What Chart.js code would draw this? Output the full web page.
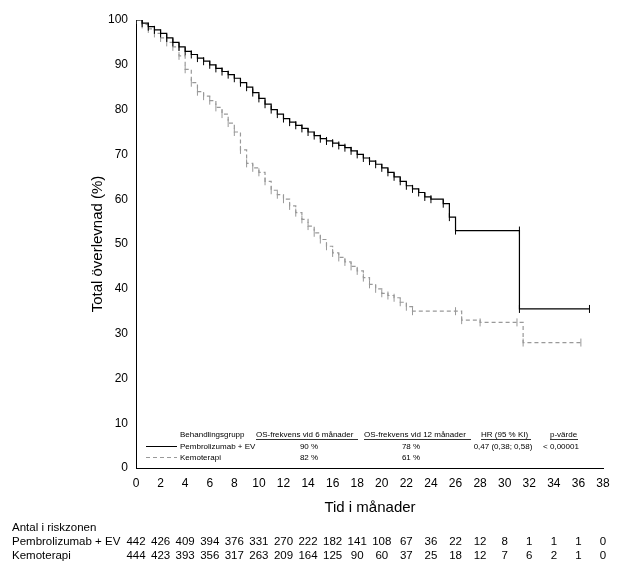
<!DOCTYPE html>
<html><head><meta charset="utf-8">
<script src="https://cdn.jsdelivr.net/npm/chart.js@4"></script>
<style>html,body{margin:0;padding:0;background:#fff}#wrap{width:634px;height:582px}</style>
</head><body><div id="wrap"><canvas id="c"></canvas></div>
<script>
const pembroT = [0,0.5,1,1.5,2,2.5,3,3.5,4,4.5,5,5.5,6,6.5,7,7.5,8,8.5,9,9.5,10,10.5,11,11.5,12,12.5,13,13.5,14,14.5,15,15.5,16,16.5,17,17.5,18,18.5,19,19.5,20,20.5,21,21.5,22,22.5,23,23.5,24,25,25.5,26,31.2,31.2,36.9];
const pembroS = [100,99.3,98.5,97.8,97,96,95,94,93,92.3,91.5,90.8,90,89.2,88.5,87.8,87,86,85,83.8,82.5,81.2,80,79,78,77.2,76.5,75.8,75,74.2,73.5,73,72.5,72,71.5,70.8,70,69.2,68.5,67.8,67,66,65,64,63,62.3,61.5,60.5,60,59,56,53,53,35.5,35.5];
const kemoT = [0,0.5,1,1.5,2,2.5,3,3.5,4,4.5,5,5.5,6,6.5,7,7.5,8,8.5,9,9.5,10,10.5,11,11.5,12,12.5,13,13.5,14,14.5,15,15.5,16,16.5,17,17.5,18,18.5,19,19.5,20,20.5,21,21.5,22,22.5,26,26.5,28,31,31.5,36.2];
const kemoS = [100,99,98,97,96,95,94,92,89,86,84,83,82,80.5,79,77,75,71,68,67,66,64,62,61,60,58.5,57,55.5,54,52.5,51,49.5,48,47,46,45,44,42.5,41,40,39,38.5,38,37,36,35,35,33,32.5,32.5,28,28];
const riskTimes = [0,2,4,6,8,10,12,14,16,18,20,22,24,26,28,30,32,34,36,38];
const riskPembro = [442,426,409,394,376,331,270,222,182,141,108,67,36,22,12,8,1,1,1,0];
const riskKemo = [444,423,393,356,317,263,209,164,125,90,60,37,25,18,12,7,6,2,1,0];
const FONT = "'Liberation Sans', Arial, sans-serif";

const pts = (t, s) => t.map((x, i) => ({x, y: s[i]}));

const textPlugin = {
  id: 'txt',
  afterDraw(chart) {
    const {ctx, scales: {x}} = chart;
    ctx.save();
    ctx.fillStyle = '#000';
    ctx.font = '15px ' + FONT;
    ctx.textAlign = 'center';
    ctx.fillText('Tid i månader', 370, 512);
    ctx.save();
    ctx.translate(102, 244);
    ctx.rotate(-Math.PI / 2);
    ctx.fillText('Total överlevnad (%)', 0, 0);
    ctx.restore();
    ctx.font = '11.5px ' + FONT;
    ctx.textAlign = 'left';
    ctx.fillText('Antal i riskzonen', 12, 531);
    ctx.fillText('Pembrolizumab + EV', 12, 545);
    ctx.fillText('Kemoterapi', 12, 559);
    ctx.textAlign = 'center';
    riskTimes.forEach((t, i) => {
      const px = x.getPixelForValue(t);
      ctx.fillText(riskPembro[i], px, 545);
      ctx.fillText(riskKemo[i], px, 559);
    });
    // legend table
    ctx.font = '8px ' + FONT;
    ctx.textAlign = 'left';
    ctx.fillText('Behandlingsgrupp', 180, 437);
    ctx.fillText('OS-frekvens vid 6 månader', 256, 437);
    ctx.fillText('OS-frekvens vid 12 månader', 364, 437);
    ctx.fillText('HR (95 % KI)', 481, 437);
    ctx.fillText('p-värde', 550, 437);
    ctx.fillRect(256, 439, 102, 0.8);
    ctx.fillRect(364, 439, 107, 0.8);
    ctx.fillRect(481, 439, 50, 0.8);
    ctx.fillRect(550, 439, 28, 0.8);
    ctx.fillText('Pembrolizumab + EV', 180, 449);
    ctx.fillText('Kemoterapi', 180, 460);
    ctx.textAlign = 'center';
    ctx.fillText('90 %', 309, 449);
    ctx.fillText('82 %', 309, 460);
    ctx.fillText('78 %', 411, 449);
    ctx.fillText('61 %', 411, 460);
    ctx.fillText('0,47 (0,38; 0,58)', 503, 449);
    ctx.fillText('< 0,00001', 561, 449);
    ctx.strokeStyle = '#000';
    ctx.lineWidth = 1;
    ctx.beginPath(); ctx.moveTo(146, 446.5); ctx.lineTo(177, 446.5); ctx.stroke();
    ctx.strokeStyle = '#999';
    ctx.setLineDash([4, 3]);
    ctx.beginPath(); ctx.moveTo(146, 457.5); ctx.lineTo(177, 457.5); ctx.stroke();
    ctx.restore();
  }
};

new Chart(document.getElementById('c'), {
  type: 'scatter',
  data: {
    datasets: [
      {label: 'Pembrolizumab + EV', data: pts(pembroT, pembroS), showLine: true, stepped: true,
       borderColor: '#000', borderWidth: 1.2, pointStyle: 'line', rotation: 90, pointRadius: 4,
       pointBorderColor: '#000', pointBorderWidth: 1},
      {label: 'Kemoterapi', data: pts(kemoT, kemoS), showLine: true, stepped: true,
       borderColor: '#999', borderWidth: 1.2, borderDash: [4, 3], pointStyle: 'line', rotation: 90,
       pointRadius: 4, pointBorderColor: '#999', pointBorderWidth: 1}
    ]
  },
  options: {
    responsive: true, maintainAspectRatio: false, animation: false,
    layout: {padding: {top: 20, right: 31, left: 0, bottom: 0}},
    plugins: {legend: {display: false}, tooltip: {enabled: false}},
    scales: {
      x: {type: 'linear', min: 0, max: 38,
          ticks: {stepSize: 2, color: '#000', font: {size: 12, family: FONT}, maxRotation: 0},
          grid: {display: false, drawTicks: true, tickLength: 5, tickColor: '#000'},
          border: {color: '#000'},
          afterFit(s) { s.height = 114; }},
      y: {min: 0, max: 100,
          ticks: {stepSize: 10, color: '#000', font: {size: 12, family: FONT}},
          grid: {display: false, drawTicks: true, tickLength: 5, tickColor: '#000'},
          border: {color: '#000'},
          afterFit(s) { s.width = 136; }}
    }
  },
  plugins: [textPlugin]
});
</script></body></html>
